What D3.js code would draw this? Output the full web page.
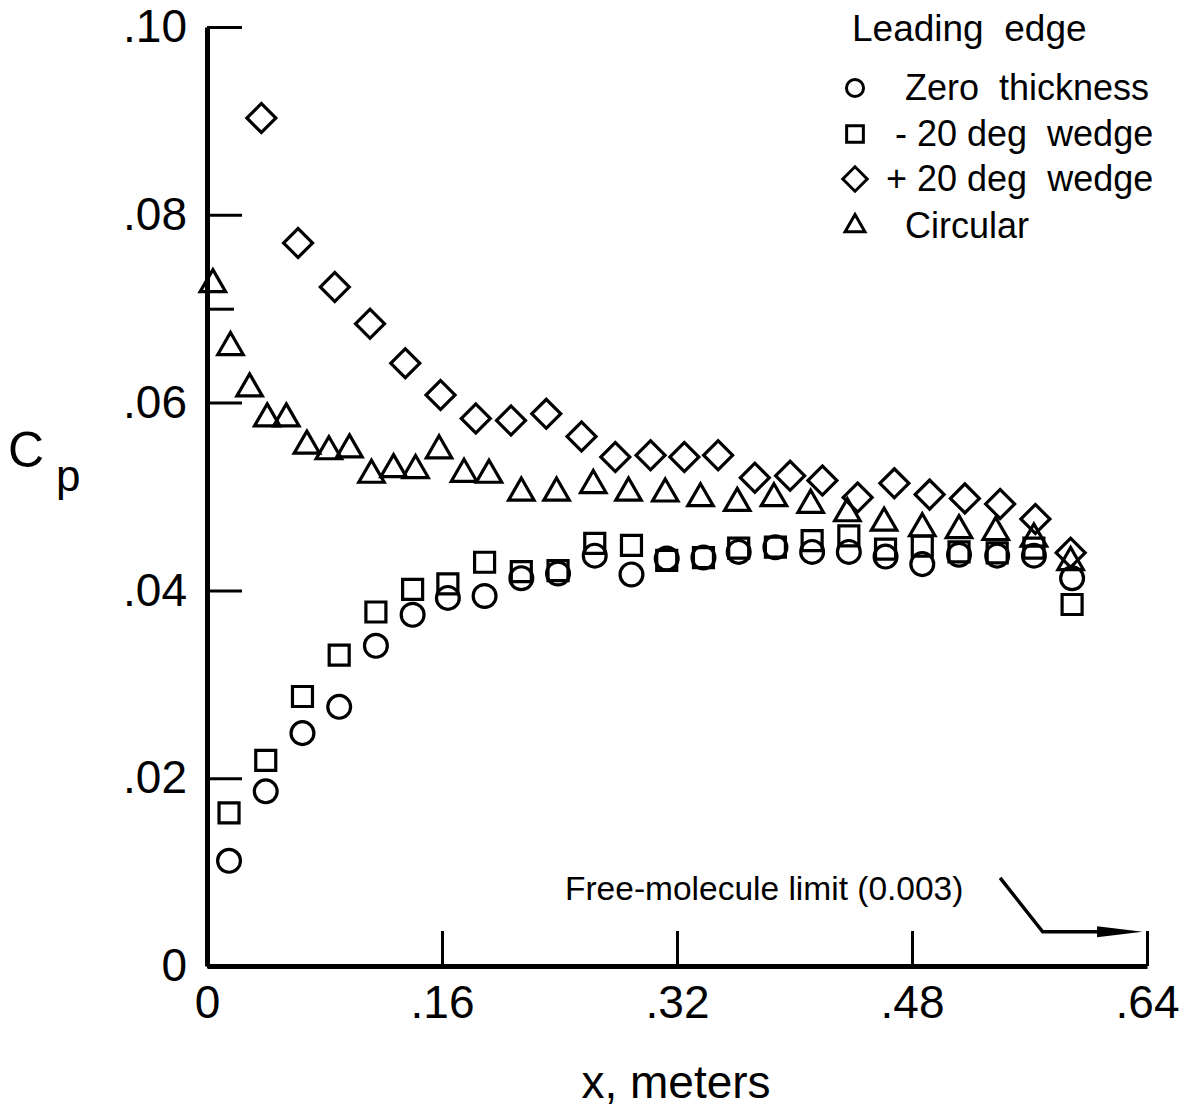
<!DOCTYPE html>
<html>
<head>
<meta charset="utf-8">
<script src="https://cdn.jsdelivr.net/npm/d3@7"></script>
<style>
  body { margin: 0; background: #fff; }
  svg text { font-family: "Liberation Sans", Arial, Helvetica, sans-serif; fill: #000; white-space: pre; }
</style>
</head>
<body>
<svg id="chart" width="1188" height="1114"></svg>
<script>
// x stations (meters) and pressure coefficient
var zeroX = [0.015, 0.040, 0.065, 0.090, 0.115, 0.140, 0.164, 0.189, 0.214, 0.239, 0.264, 0.289,
             0.313, 0.338, 0.362, 0.387, 0.412, 0.437, 0.462, 0.487, 0.512, 0.538, 0.563, 0.589];
var zeroCp = [0.0112, 0.0186, 0.0248, 0.0276, 0.0341, 0.0374, 0.0392, 0.0394, 0.0413, 0.0418, 0.0437, 0.0417,
              0.0434, 0.0435, 0.0441, 0.0446, 0.0441, 0.0441, 0.0436, 0.0428, 0.0438, 0.0437, 0.0437, 0.0413];

var minusX = zeroX;
var minusCp = [0.0163, 0.0219, 0.0287, 0.0331, 0.0377, 0.0401, 0.0407, 0.0430, 0.0420, 0.0421, 0.0450, 0.0448,
               0.0432, 0.0435, 0.0445, 0.0446, 0.0453, 0.0458, 0.0444, 0.0447, 0.0441, 0.0440, 0.0445, 0.0385];

var plusX = [0.037, 0.062, 0.087, 0.111, 0.135, 0.159, 0.183, 0.207, 0.231, 0.255, 0.278, 0.302,
             0.325, 0.348, 0.373, 0.397, 0.419, 0.443, 0.468, 0.492, 0.516, 0.540, 0.564, 0.588];
var plusCp = [0.0903, 0.0770, 0.0723, 0.0684, 0.0642, 0.0608, 0.0583, 0.0581, 0.0588, 0.0564, 0.0542, 0.0544,
              0.0542, 0.0544, 0.0520, 0.0522, 0.0517, 0.0499, 0.0514, 0.0502, 0.0498, 0.0492, 0.0476, 0.0440];

var circX = [0.004, 0.016, 0.029, 0.041, 0.054, 0.068, 0.083, 0.097, 0.112, 0.127, 0.142, 0.158, 0.175, 0.192, 0.214,
             0.238, 0.263, 0.287, 0.312, 0.336, 0.361, 0.386, 0.411, 0.436, 0.461, 0.487, 0.512, 0.537, 0.563, 0.588];
var circCp = [0.0726, 0.0659, 0.0615, 0.0583, 0.0583, 0.0554, 0.0548, 0.0550, 0.0523, 0.0529, 0.0528, 0.0549, 0.0524, 0.0523, 0.0504,
              0.0504, 0.0512, 0.0504, 0.0503, 0.0498, 0.0493, 0.0498, 0.0491, 0.0482, 0.0472, 0.0466, 0.0464, 0.0462, 0.0455, 0.0430];

var seriesNames = ["Zero  thickness", "- 20 deg  wedge", "+ 20 deg  wedge", "Circular"];
var xTicks = [0, 0.16, 0.32, 0.48, 0.64];
var xTickLabels = ["0", ".16", ".32", ".48", ".64"];
var yTicks = [0, 0.02, 0.04, 0.06, 0.08, 0.10];
var yTickLabels = ["0", ".02", ".04", ".06", ".08", ".10"];
var yMinorTicks = [0.07];
var freeMolecule = 0.003;

var svg = d3.select("#chart");

var x = d3.scaleLinear().domain([0, 0.64]).range([207, 1147]),
    y = d3.scaleLinear().domain([0, 0.10]).range([966, 27]);

// axes, ticks pointing inward
svg.append("g")
    .attr("transform", "translate(" + x(0) + ",0)")
    .call(d3.axisLeft(y).tickValues(yTicks).tickSize(-35).tickSizeOuter(0).tickPadding(20)
        .tickFormat(function (d, i) { return yTickLabels[i]; }));

svg.append("g")
    .attr("transform", "translate(" + x(0) + ",0)")
    .call(d3.axisLeft(y).tickValues(yMinorTicks).tickSize(-27).tickSizeOuter(0).tickFormat(""))
    .call(function (g) { g.select(".domain").remove(); });

svg.append("g")
    .attr("transform", "translate(0," + y(0) + ")")
    .call(d3.axisBottom(x).tickValues(xTicks).tickSize(-35).tickSizeOuter(0).tickPadding(19)
        .tickFormat(function (d, i) { return xTickLabels[i]; }));

svg.selectAll(".domain").attr("stroke", "#000").attr("stroke-width", 5);
svg.selectAll(".tick line").attr("stroke", "#000").attr("stroke-width", 3);
svg.selectAll(".tick text").style("font-size", "46px").attr("fill", "#000");
svg.selectAll("g").attr("font-family", null).attr("font-size", null);

// axis titles
svg.append("text").attr("x", 676).attr("y", 1098).attr("text-anchor", "middle")
    .style("font-size", "46px").text("x, meters");
var cp = svg.append("text").attr("x", 8).attr("y", 467).style("font-size", "50px");
cp.append("tspan").text("C");
cp.append("tspan").attr("dx", 12).attr("dy", 24).style("font-size", "44px").text("p");

// markers
var sym = {
    circle: d3.symbol().type(d3.symbolCircle),
    square: d3.symbol().type(d3.symbolSquare),
    triangle: d3.symbol().type(d3.symbolTriangle)
};

function drawSeries(xs, ys, gen, size, rotate) {
    svg.append("g").selectAll("path")
        .data(xs.map(function (v, i) { return [v, ys[i]]; }))
        .enter().append("path")
        .attr("d", gen.size(size)())
        .attr("transform", function (d) {
            return "translate(" + x(d[0]) + "," + y(d[1]) + ")" + (rotate ? " rotate(45)" : "");
        })
        .attr("fill", "none").attr("stroke", "#000").attr("stroke-width", 3.2);
}

drawSeries(zeroX, zeroCp, sym.circle, 410);
drawSeries(minusX, minusCp, sym.square, 400);
drawSeries(plusX, plusCp, sym.square, 420, true);
drawSeries(circX, circCp, sym.triangle, 280);

// legend
svg.append("text").attr("x", 852).attr("y", 41).style("font-size", "37px").text("Leading  edge");
var legRows = [
    {y: 88, tx: 905, gen: sym.circle, size: 230, rot: false},
    {y: 134, tx: 895, gen: sym.square, size: 280, rot: false},
    {y: 179, tx: 886, gen: sym.square, size: 300, rot: true},
    {y: 226, tx: 905, gen: sym.triangle, size: 170, rot: false}
];
legRows.forEach(function (r, i) {
    svg.append("path").attr("d", r.gen.size(r.size)())
        .attr("transform", "translate(855," + r.y + ")" + (r.rot ? " rotate(45)" : ""))
        .attr("fill", "none").attr("stroke", "#000").attr("stroke-width", 3);
    svg.append("text").attr("x", r.tx).attr("y", r.y + 12).style("font-size", "36px").text(seriesNames[i]);
});

// free-molecule annotation
svg.append("text").attr("x", 565).attr("y", 900).style("font-size", "33.5px")
    .text("Free-molecule limit (" + freeMolecule.toFixed(3) + ")");
var ay = y(freeMolecule) - 6;
svg.append("path")
    .attr("d", "M" + x(0.540) + "," + (ay - 54) + " L" + x(0.569) + "," + ay + " L" + x(0.612) + "," + ay)
    .attr("fill", "none").attr("stroke", "#000").attr("stroke-width", 3.5);
svg.append("path")
    .attr("d", "M" + x(0.606) + "," + (ay - 5.5) + " L" + x(0.637) + "," + ay + " L" + x(0.606) + "," + (ay + 5.5) + " Z")
    .attr("fill", "#000");
</script>
</body>
</html>
